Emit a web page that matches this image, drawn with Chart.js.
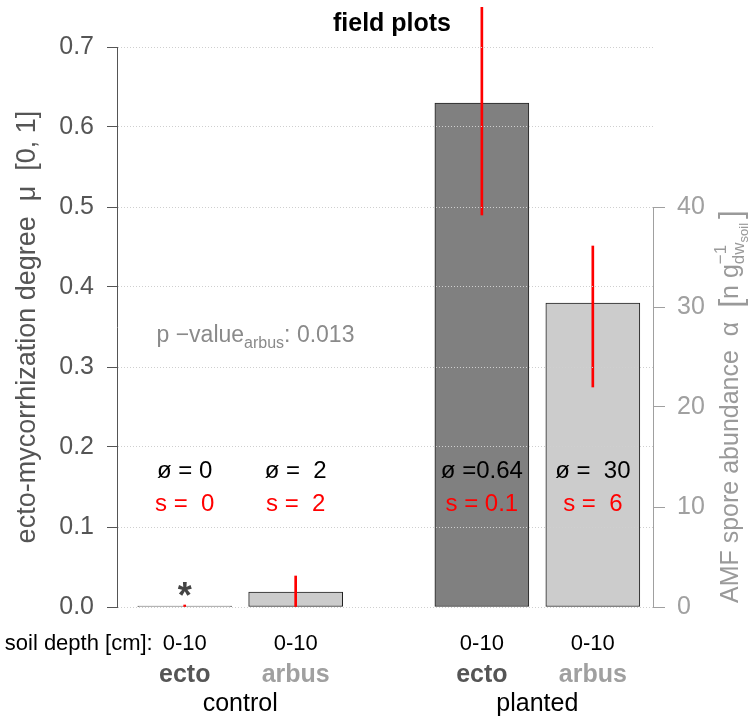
<!DOCTYPE html>
<html>
<head>
<meta charset="utf-8">
<script src="https://cdn.jsdelivr.net/npm/chart.js@4/dist/chart.umd.min.js"></script>
<style>
  html, body { margin: 0; background: #fff; }
  .wrapper { width: 753px; height: 720px; }
</style>
</head>
<body>
<div class="wrapper"><canvas id="myChart"></canvas></div>
<script>
// data
const groups = ["control", "planted"];
const types = ["ecto", "arbus"];
const depthLabels = ["0-10", "0-10", "0-10", "0-10"];
const ectoMean = [0, 0.63];      // left axis, mu [0,1]
const ectoLow = [0, 0.49];       // red error line ends
const ectoHigh = [0, 0.77];
const arbusMean = [1.5, 30.4];   // right axis, spores
const arbusLow = [0, 22.0];
const arbusHigh = [3.1, 36.1];
const meanLabels = ["ø = 0", "ø =  2", "ø =0.64", "ø =  30"];
const sdLabels = ["s =  0", "s =  2", "s = 0.1", "s =  6"];
const leftTicks = [0, 0.1, 0.2, 0.3, 0.4, 0.5, 0.6, 0.7];
const rightTicks = [0, 10, 20, 30, 40];
const pValueArbus = "0.013";

// bar centres on the x axis (control ecto, control arbus, planted ecto, planted arbus)
const ectoX = [0.72, 3.88];
const arbusX = [1.9, 5.06];

const FONT = "'Liberation Sans', Arial, sans-serif";
Chart.defaults.font.family = FONT;

const textPlugin = {
  id: "textPlugin",
  afterDraw(chart) {
    const { ctx, chartArea } = chart;
    const x = chart.scales.x, y = chart.scales.y, y2 = chart.scales.y2;
    const centers = [ectoX[0], arbusX[0], ectoX[1], arbusX[1]].map(v => x.getPixelForValue(v));
    ctx.save();

    // right axis line, only from 0 to 40
    ctx.strokeStyle = "#a0a0a0";
    ctx.lineWidth = 1;
    ctx.beginPath();
    ctx.moveTo(Math.round(y2.left) + 0.5, y2.getPixelForValue(rightTicks[0]));
    ctx.lineTo(Math.round(y2.left) + 0.5, y2.getPixelForValue(rightTicks[rightTicks.length - 1]));
    ctx.stroke();

    // title
    ctx.fillStyle = "#000";
    ctx.textAlign = "center";
    ctx.textBaseline = "alphabetic";
    ctx.font = "bold 25px " + FONT;
    ctx.fillText("field plots", (chartArea.left + chartArea.right) / 2 + 7, 31);

    // mean and sd inside the plot
    ctx.font = "24px " + FONT;
    ctx.textBaseline = "middle";
    centers.forEach((cx, i) => {
      ctx.fillStyle = "#000";
      ctx.fillText(meanLabels[i], cx, y.getPixelForValue(0.17));
      ctx.fillStyle = "#ff0000";
      ctx.fillText(sdLabels[i], cx, y.getPixelForValue(0.128));
    });

    // asterisk on the empty ecto bar
    ctx.fillStyle = "#444";
    ctx.textBaseline = "alphabetic";
    ctx.font = "bold 36px " + FONT;
    ctx.fillText("*", centers[0], y.getPixelForValue(0) + 1);

    // p-value
    ctx.textAlign = "left";
    ctx.fillStyle = "#8a8a8a";
    let px = x.getPixelForValue(0.42);
    const py = y.getPixelForValue(0.331);
    ctx.font = "23px " + FONT;
    ctx.fillText("p −value", px, py);
    px += ctx.measureText("p −value").width;
    ctx.font = "16px " + FONT;
    ctx.fillText("arbus", px, py + 6);
    px += ctx.measureText("arbus").width;
    ctx.font = "23px " + FONT;
    ctx.fillText(": " + pValueArbus, px, py);

    // bottom labels
    const b = chartArea.bottom;
    ctx.textAlign = "center";
    ctx.fillStyle = "#000";
    ctx.font = "22px " + FONT;
    centers.forEach((cx, i) => ctx.fillText(depthLabels[i], cx, b + 43));
    ctx.textAlign = "right";
    ctx.fillText("soil depth [cm]:", centers[0] - 32, b + 43);
    ctx.textAlign = "center";
    ctx.font = "bold 25px " + FONT;
    centers.forEach((cx, i) => {
      ctx.fillStyle = i % 2 === 0 ? "#555" : "#a0a0a0";
      ctx.fillText(types[i % 2], cx, b + 75);
    });
    ctx.fillStyle = "#000";
    ctx.font = "25px " + FONT;
    groups.forEach((g, i) => {
      ctx.fillText(g, (centers[2 * i] + centers[2 * i + 1]) / 2, b + 104);
    });

    // right axis title, rotated, with sub/superscripts
    ctx.translate(y2.left + 85, y2.getPixelForValue(0) - 4);
    ctx.rotate(-Math.PI / 2);
    ctx.textAlign = "left";
    ctx.fillStyle = "#9a9a9a";
    let tx = 0;
    const put = (s, size, dy) => {
      ctx.font = size + "px " + FONT;
      ctx.fillText(s, tx, dy);
      return ctx.measureText(s).width;
    };
    tx += put("AMF spore abundance  α  ", 25, 0);
    tx += put("[", 32, 3);
    tx += put("n g", 25, 0);
    const subStart = tx;
    const supW = put("−1", 17, -12);
    let subW = put("dw", 17, 6);
    tx += subW;
    subW += put("soil", 13, 10);
    tx = subStart + Math.max(supW, subW) + 4;
    put("]", 32, 3);

    ctx.restore();
  }
};

const barCommon = {
  borderColor: "#222",
  borderWidth: 1,
  borderSkipped: false,
  barThickness: 94,
  grouped: false,
  order: 1
};
const errCommon = {
  backgroundColor: "#ff0000",
  borderWidth: 0,
  barThickness: 2,
  minBarLength: 2,
  grouped: false,
  order: 0,
  clip: { left: 0, top: 40, right: 0, bottom: 0 }
};

new Chart(document.getElementById("myChart"), {
  type: "bar",
  data: {
    datasets: [
      Object.assign({
        label: "ecto",
        yAxisID: "y",
        backgroundColor: "#808080",
        minBarLength: 1,
        data: ectoX.map((v, i) => ({ x: v, y: ectoMean[i] }))
      }, barCommon),
      Object.assign({
        label: "arbus",
        yAxisID: "y2",
        backgroundColor: "#cccccc",
        data: arbusX.map((v, i) => ({ x: v, y: arbusMean[i] }))
      }, barCommon),
      Object.assign({
        label: "ecto s",
        yAxisID: "y",
        data: ectoX.map((v, i) => ({ x: v, y: [ectoLow[i], ectoHigh[i]] }))
      }, errCommon),
      Object.assign({
        label: "arbus s",
        yAxisID: "y2",
        data: arbusX.map((v, i) => ({ x: v, y: [arbusLow[i], arbusHigh[i]] }))
      }, errCommon)
    ]
  },
  options: {
    responsive: true,
    maintainAspectRatio: false,
    animation: false,
    layout: { padding: { top: 47, bottom: 113, left: 0, right: 0 } },
    plugins: {
      legend: { display: false },
      tooltip: { enabled: false },
      title: { display: false }
    },
    scales: {
      x: { type: "linear", display: false, offset: false, min: 0, max: 5.7 },
      y: {
        position: "left",
        min: 0,
        max: 0.7,
        afterFit: s => { s.width = 117; },
        afterBuildTicks: s => { s.ticks = leftTicks.map(v => ({ value: v })); },
        ticks: {
          color: "#555",
          font: { size: 25 },
          padding: 13,
          callback: v => v.toFixed(1)
        },
        grid: { color: "#cfcfcf", tickColor: "#555", tickLength: 10, lineWidth: 1, z: 1 },
        border: { color: "#555", width: 1, dash: [1, 2], z: 1 },
        title: {
          display: true,
          text: "ecto-mycorrhization degree  μ  [0, 1]",
          color: "#555",
          font: { size: 27 },
          padding: { top: 11, bottom: 0 }
        }
      },
      y2: {
        position: "right",
        min: 0,
        max: 56,
        afterFit: s => { s.width = 100; },
        afterBuildTicks: s => { s.ticks = rightTicks.map(v => ({ value: v })); },
        ticks: { color: "#a0a0a0", font: { size: 25 }, padding: 12 },
        grid: { drawOnChartArea: false, color: "#a0a0a0", tickColor: "#a0a0a0", tickLength: 12 },
        border: { display: false }
      }
    }
  },
  plugins: [textPlugin]
});
</script>
</body>
</html>
